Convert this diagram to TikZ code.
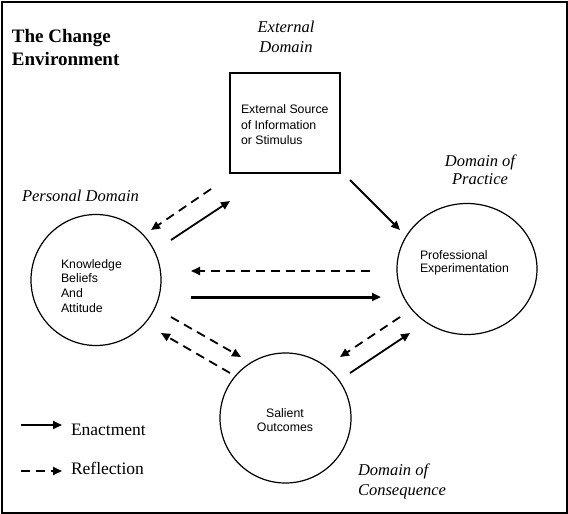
\documentclass[tikz,border=0pt]{standalone}
\usepackage{fontspec}
\setmainfont{Liberation Serif}
\newfontfamily\arialfont{Liberation Sans}
\usetikzlibrary{arrows.meta,shapes.geometric}
\begin{document}
\begin{tikzpicture}[x=1pt,y=-1pt,
  every node/.style={inner sep=0pt,outer sep=0pt},
  dom/.style={draw,shape=ellipse,line width=1.2pt},
  srcbox/.style={draw,rectangle,line width=1.4pt},
  body/.style={font=\arialfont\fontsize{12.3}{14.8}\selectfont},
  ital/.style={font=\fontsize{16.5}{20}\selectfont\itshape},
  legtext/.style={font=\fontsize{17.5}{20}\selectfont,anchor=base west},
  enact/.style={line width=1.8pt,-{Triangle[length=9pt,width=8pt]}},
  reflect/.style={line width=1.8pt,dash pattern=on 9pt off 6pt,-{Triangle[length=9pt,width=8pt]}},
]
\useasboundingbox (0,0) rectangle (568,514);
\draw[line width=2pt] (1.5,1.5) rectangle (566.5,512.5);

% title
\node[font=\fontsize{19}{23}\selectfont\bfseries,align=left,anchor=west] (title) at (12,48) {The Change\\Environment};

% domain labels
\node[ital,align=center] (extlab) at (286,37) {External\\Domain};
\node[ital,anchor=base west] (perlab) at (22,201) {Personal Domain};
\node[ital,align=center,font=\fontsize{16.5}{18}\selectfont\itshape] (praclab) at (480,170) {Domain of\\Practice};
\node[ital,align=left,anchor=west] (conslab) at (358,481) {Domain of\\Consequence};

% main shapes
\node[srcbox,minimum width=110pt,minimum height=100pt] (ext) at (285,123) {};
\node[body,align=left,anchor=west,font=\arialfont\fontsize{12.3}{15.5}\selectfont] (exttxt) at (241,125) {External Source\\of Information\\or Stimulus};

\node[dom,minimum width=130pt,minimum height=131pt] (kba) at (96,280) {};
\node[body,align=left,anchor=west] (kbatxt) at (61,286) {Knowledge\\Beliefs\\And\\Attitude};

\node[dom,minimum width=140pt,minimum height=131pt] (pe) at (467,269) {};
\node[body,align=left,anchor=west,font=\arialfont\fontsize{12.3}{13.5}\selectfont] (petxt) at (420,263) {Professional\\Experimentation};

\node[dom,minimum width=131pt,minimum height=130pt] (so) at (285.5,418) {};
\node[body,align=center,font=\arialfont\fontsize{12.3}{14.3}\selectfont] (sotxt) at (285,420) {Salient\\Outcomes};

% arrow end points
\coordinate (a1s) at (211,189); \coordinate (a1e) at (151,230);
\coordinate (a2s) at (171,240); \coordinate (a2e) at (230,201);
\coordinate (a3s) at (350,180); \coordinate (a3e) at (400,230);
\coordinate (a4s) at (370,271); \coordinate (a4e) at (191,271);
\coordinate (a5s) at (191,297); \coordinate (a5e) at (381,297);
\coordinate (a6s) at (400,317); \coordinate (a6e) at (340,357);
\coordinate (a7s) at (350,373); \coordinate (a7e) at (410,333);
\coordinate (a8s) at (171,317); \coordinate (a8e) at (241,357);
\coordinate (a9s) at (230,373); \coordinate (a9e) at (161,333);

\draw[reflect] (a1s) -- (a1e);
\draw[enact] (a2s) -- (a2e);
\draw[enact] (a3s) -- (a3e);
\draw[reflect] (a4s) -- (a4e);
\draw[enact,line width=3pt] (a5s) -- (a5e);
\draw[reflect] (a6s) -- (a6e);
\draw[enact] (a7s) -- (a7e);
\draw[reflect] (a8s) -- (a8e);
\draw[reflect] (a9s) -- (a9e);

% legend
\coordinate (l1s) at (21,425); \coordinate (l1e) at (62,425);
\coordinate (l2s) at (21,471); \coordinate (l2e) at (62,471);
\draw[enact] (l1s) -- (l1e);
\draw[reflect] (l2s) -- (l2e);
\node[legtext] (enl) at (71,435) {Enactment};
\node[legtext] (rel) at (71,474) {Reflection};
\end{tikzpicture}
\end{document}
